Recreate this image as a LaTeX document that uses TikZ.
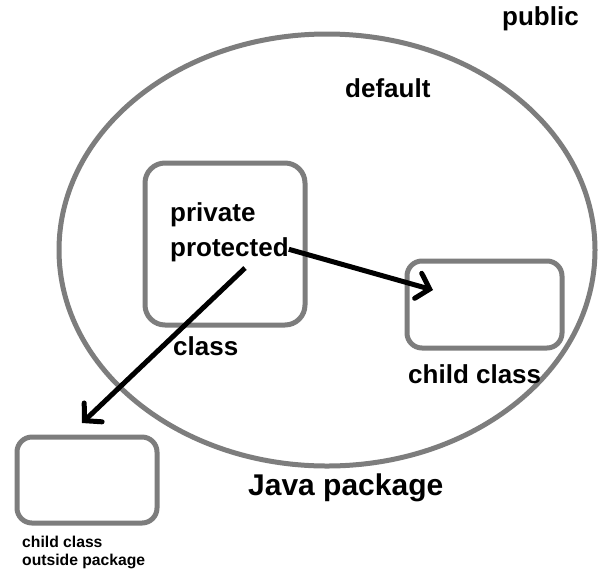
\documentclass[tikz,border=0pt]{standalone}
\usepackage{fontspec}
\setmainfont{Liberation Sans}
\usetikzlibrary{arrows.meta}

\definecolor{pkggray}{RGB}{125,125,125}

\begin{document}
\begin{tikzpicture}[x=1pt,y=-1pt]

      \useasboundingbox (0,0) rectangle (601,576);

      % the package
      \draw[pkggray, line width=5pt] (327,250) ellipse [x radius=268, y radius=216];

      \begin{scope}[every node/.style={draw=pkggray, line width=5pt, inner sep=0pt}]
        \node[minimum width=160pt, minimum height=162pt, rounded corners=20pt] (class)   at (225,244)   {};
        \node[minimum width=155pt, minimum height=87pt,  rounded corners=15pt] (child)   at (484.5,304.5) {};
        \node[minimum width=140pt, minimum height=86pt,  rounded corners=15pt] (outside) at (87,480)    {};
      \end{scope}

      \begin{scope}[every node/.style={inner sep=0pt, anchor=base west,
                    font=\bfseries\fontsize{26}{30}\selectfont}]
        \node (private)   at (170,221) {private};
        \node (protected) at (170,256) {protected};
        \node (classlbl)  at (173,355) {class};
        \node (default)   at (345,97)  {default};
        \node (public)    at (502,25)  {public};
        \node (childlbl)  at (408,383) {child class};
        \node[font=\bfseries\fontsize{30}{34}\selectfont] (java) at (248,495) {Java package};
      \end{scope}

      \node[inner sep=0pt, anchor=north west, align=left,
            font=\bfseries\fontsize{15.7}{17.5}\selectfont] (outlbl) at (22,536) {child class\\outside package};

      \coordinate (protfoot) at (245,268);
      \coordinate (childin)  at (433,290);
      \coordinate (outtip)   at (82,423);

      \begin{scope}[every edge/.style={draw, line width=5pt,
                    -{Straight Barb[length=12pt, width=26pt, line cap=round]}}]
        \path (protected.east) edge (childin);
        \path (protfoot)       edge (outtip);
      \end{scope}

    \end{tikzpicture}
\end{document}
